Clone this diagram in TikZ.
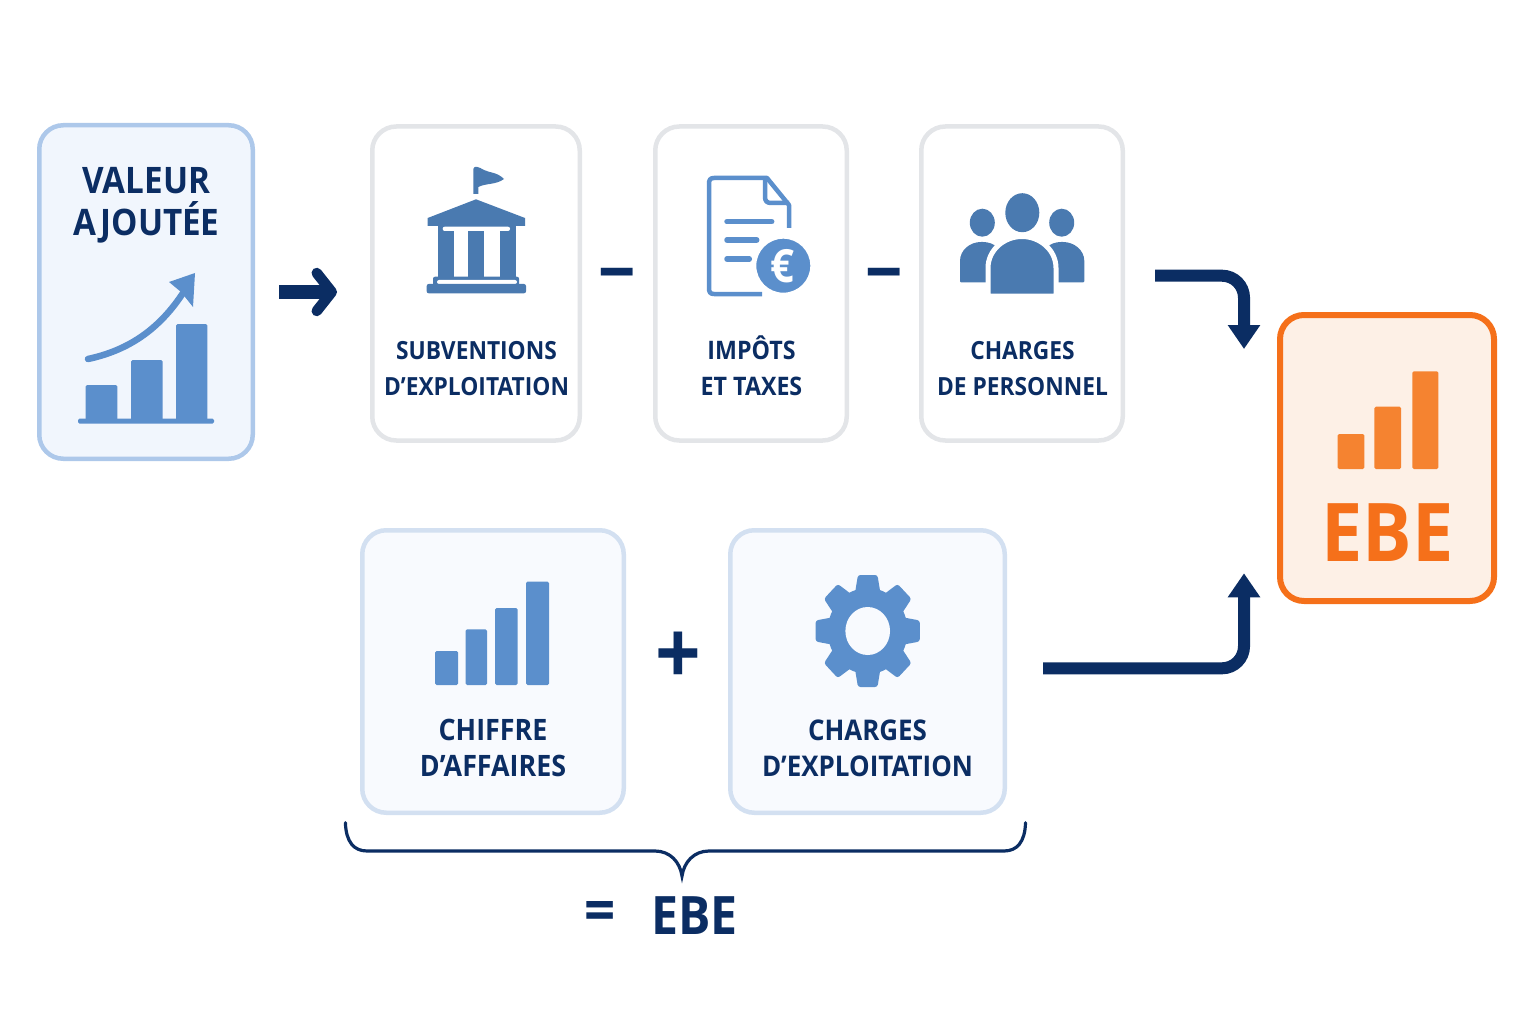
\documentclass[tikz,border=0pt]{standalone}
\usepackage{fontspec}
\setmainfont{Open Sans}[FakeStretch=0.91]
\usetikzlibrary{arrows.meta, positioning, calc}

\definecolor{navy}{HTML}{0B2D63}
\definecolor{barblue}{HTML}{5B8FCC}
\definecolor{iconblue}{HTML}{4A7AB0}
\definecolor{orangeline}{HTML}{F5701A}
\definecolor{orangebar}{HTML}{F58330}
\definecolor{softfill}{HTML}{F8FAFE}
\definecolor{softline}{HTML}{D3E0F1}
\definecolor{valeurline}{HTML}{ADC8EA}
\definecolor{valeurfill}{HTML}{F1F6FD}
\definecolor{greyline}{HTML}{E3E5E8}
\definecolor{ebefill}{HTML}{FDF0E6}

\begin{document}
\begin{tikzpicture}[
    x=1pt, y=-1pt,
    block/.style = {draw=#1, line width=4.5pt, rounded corners=24pt, inner sep=0pt},
    whiteblock/.style = {block=greyline, fill=white, minimum height=314pt},
    softblock/.style = {block=softline, fill=softfill, minimum height=282.5pt},
    caption/.style = {text=navy, font=\fontsize{#1}{36}\selectfont\bfseries, align=center, inner sep=0pt},
    arrow/.style = {navy, line width=12pt, rounded corners=22pt, -{Triangle[length=24pt,width=31pt]}},
    sign/.style = {text=navy, font=\fontsize{#1}{#1}\selectfont\bfseries, inner sep=0pt}
  ]
  \useasboundingbox (0,0) rectangle (1536,1024);

  % Valeur ajoutee block
  \node[block=valeurline, fill=valeurfill, minimum width=213.5pt, minimum height=333.5pt] (valeur) at (146,292) {};
  \node[caption=36, font=\fontsize{36.5}{42}\selectfont\bfseries] (valeurtxt) at (146.5,205.5) {VALEUR\\AJOUTÉE};
  \foreach \xa/\xb/\ytop in {85.7/117.3/385, 131/162.7/360, 176/207.3/324}
    \fill[barblue, rounded corners=1.5pt] (\xa,\ytop) rectangle (\xb,421);
  \fill[barblue, rounded corners=1.5pt] (78,418.7) rectangle (214,423.7);
  \draw[barblue, line width=6.5pt, line cap=round] (88,359) .. controls (130,350) and (160,328) .. (183,293);
  \fill[barblue] (195,273) -- (169,282) -- (181,292) -- (193,307) -- cycle;

  % Top row blocks
  \node[whiteblock, minimum width=207.5pt, right=115pt of valeur.east, yshift=8.5pt, anchor=west] (subv) {};
  \node[whiteblock, minimum width=191.5pt, right=71pt of subv.east, anchor=west] (impots) {};
  \node[whiteblock, minimum width=201.5pt, right=70pt of impots.east, anchor=west] (personnel) {};

  % Bank icon
  \fill[iconblue] (473.3,194) -- (473.3,169) .. controls (474,165) and (479,167) .. (484,170)
    .. controls (490,173) and (497,172) .. (504,179) .. controls (496,185) and (486,183) .. (478.3,187) -- (478.3,194) -- cycle;
  \fill[iconblue] (476,199.3) -- (525,218) -- (525,226) -- (427.7,226) -- (427.7,218) -- cycle;
  \fill[iconblue] (438.3,226) rectangle (515.7,231);
  \fill[white, rounded corners=2pt] (442.7,226.7) rectangle (510,231);
  \foreach \xa/\xb in {438.3/454, 468.3/484.3, 500/515.7}
    \fill[iconblue] (\xa,230.7) rectangle (\xb,277);
  \fill[iconblue, rounded corners=2pt] (433,276.7) rectangle (519,286);
  \fill[white, rounded corners=2pt] (437,280) rectangle (517,284);
  \fill[iconblue, rounded corners=2pt] (426.7,284) rectangle (526,293.3);
  \node[caption=25] (subvtxt) at (476.5,368.5) {SUBVENTIONS\\D’EXPLOITATION};

  % Document icon
  \draw[barblue, line width=4.5pt, line join=round]
    (789,228) -- (789,205) -- (767,178) -- (714,178) .. controls (710,178) and (709,180) .. (709,184)
    -- (709,288) .. controls (709,292) and (710,294) .. (714,294) -- (762,294);
  \draw[barblue, line width=4.5pt, line join=round] (765,178) -- (765,197) .. controls (765,201) and (767,203) .. (771,203) -- (789,203);
  \foreach \ya/\xb in {221.7/771.7, 240/756.7, 259/749.3}
    \draw[barblue, line width=5.5pt, line cap=round] (727,\ya) -- (\xb,\ya);
  \fill[barblue, draw=white, line width=4pt] (783.3,265.7) circle[radius=29pt];
  \node[text=white, font=\fontsize{46}{46}\selectfont\bfseries, inner sep=0pt] (euro) at (782.5,266) {€};
  \node[caption=25.5] (impotstxt) at (751.5,365.5) {IMPÔTS\\ET TAXES};

  % People icon
  \fill[iconblue] (1022.3,212.7) ellipse[x radius=17pt, y radius=19.5pt];
  \fill[iconblue] (982.3,222.7) ellipse[x radius=12.5pt, y radius=14pt];
  \fill[iconblue] (1061.7,222.7) ellipse[x radius=12.5pt, y radius=14pt];
  \fill[iconblue, rounded corners=1pt] (960,282.3) -- (960,262) .. controls (960,250) and (970,242) .. (982,242)
    .. controls (994,242) and (1004,250) .. (1004,262) -- (1004,282.3) -- cycle;
  \fill[iconblue, rounded corners=1pt] (1084.3,282.3) -- (1084.3,262) .. controls (1084.3,250) and (1074,242) .. (1062,242)
    .. controls (1050,242) and (1040,250) .. (1040,262) -- (1040,282.3) -- cycle;
  \fill[iconblue, draw=white, line width=5pt] (988,296) -- (988,268)
    .. controls (988,250) and (1004,236.5) .. (1022,236.5) .. controls (1040,236.5) and (1056,250) .. (1056,268) -- (1056,296) -- cycle;
  \node[caption=25] (personneltxt) at (1022.5,368.5) {CHARGES\\DE PERSONNEL};

  % Minus signs between the top blocks
  \node[sign=72] (moins1) at ($(subv.east)!0.5!(impots.west)$) [yshift=1pt] {−};
  \node[sign=72] (moins2) at ($(impots.east)!0.5!(personnel.west)$) [yshift=1pt] {−};

  % EBE block on the right
  \node[block=orangeline, line width=6pt, fill=ebefill, minimum width=214pt, minimum height=286pt] (ebe) at (1387,458) {};
  \foreach \xa/\xb/\ytop in {1337.7/1364.3/434, 1374.3/1401/406.7, 1412.3/1438.3/371.3}
    \fill[orangebar, rounded corners=1.5pt] (\xa,\ytop) rectangle (\xb,469);
  \node[text=orangeline, font=\fontsize{81}{81}\selectfont\bfseries, inner sep=0pt] (ebetxt) at (1387.5,533) {EBE};

  % Bottom row blocks
  \node[softblock, minimum width=261.5pt] (chiffre) at (493,671.5) {};
  \node[softblock, minimum width=274.5pt, right=102pt of chiffre.east, anchor=west] (chargesexp) {};
  \foreach \xa/\xb/\ytop in {435/458/651, 465.5/487/629.3, 495/517.7/608, 526/549/581.7}
    \fill[barblue, rounded corners=1.5pt] (\xa,\ytop) rectangle (\xb,685);
  \node[caption=29.5] (chiffretxt) at (493,748) {CHIFFRE\\D’AFFAIRES};
  \node[sign=88] (plus) at (678,658) {+};

  % Gear icon
  \begin{scope}[shift={(867.7,631)}, xscale=.93]
    \fill[barblue] (0,0) circle[radius=43pt];
    \foreach \a in {0,45,...,315}
      \fill[barblue, rotate=\a, rounded corners=2.5pt] (-14,-36) -- (-10.5,-56) -- (10.5,-56) -- (14,-36) -- cycle;
    \fill[softfill] (0,0) circle[radius=24pt];
  \end{scope}
  \node[caption=28.5] (chargesexptxt) at (867.5,748) {CHARGES\\D’EXPLOITATION};

  % Arrows
  \draw[navy, line width=13pt, shorten <=24pt, shorten >=33pt,
    -{Straight Barb[length=15pt,width=38pt,line width=10.5pt,round]}] (valeur.east) -- (valeur.east -| subv.west);
  \draw[arrow, shorten <=30pt] ([yshift=7.8pt]personnel.east) -| ([xshift=-33pt,yshift=-37pt]ebe.north west);
  \draw[arrow, shorten <=36pt] ([yshift=3.2pt]chargesexp.east) -| ([xshift=-33pt,yshift=30.7pt]ebe.south west);

  % Brace and result
  \draw[navy, line width=3.2pt, line cap=round] (345.4,822.7) .. controls (346,842) and (354,851) .. (367,851)
    -- (655,851) .. controls (670,851) and (680,862) .. (682,876)
    .. controls (684,862) and (694,851) .. (709,851) -- (1004,851)
    .. controls (1017,851) and (1025,842) .. (1025.5,822.7);
  \node[sign=60] (egal) at (600,916) {=};
  \node[sign=53] (ebebas) at (694.5,915.5) {EBE};

\end{tikzpicture}
\end{document}
